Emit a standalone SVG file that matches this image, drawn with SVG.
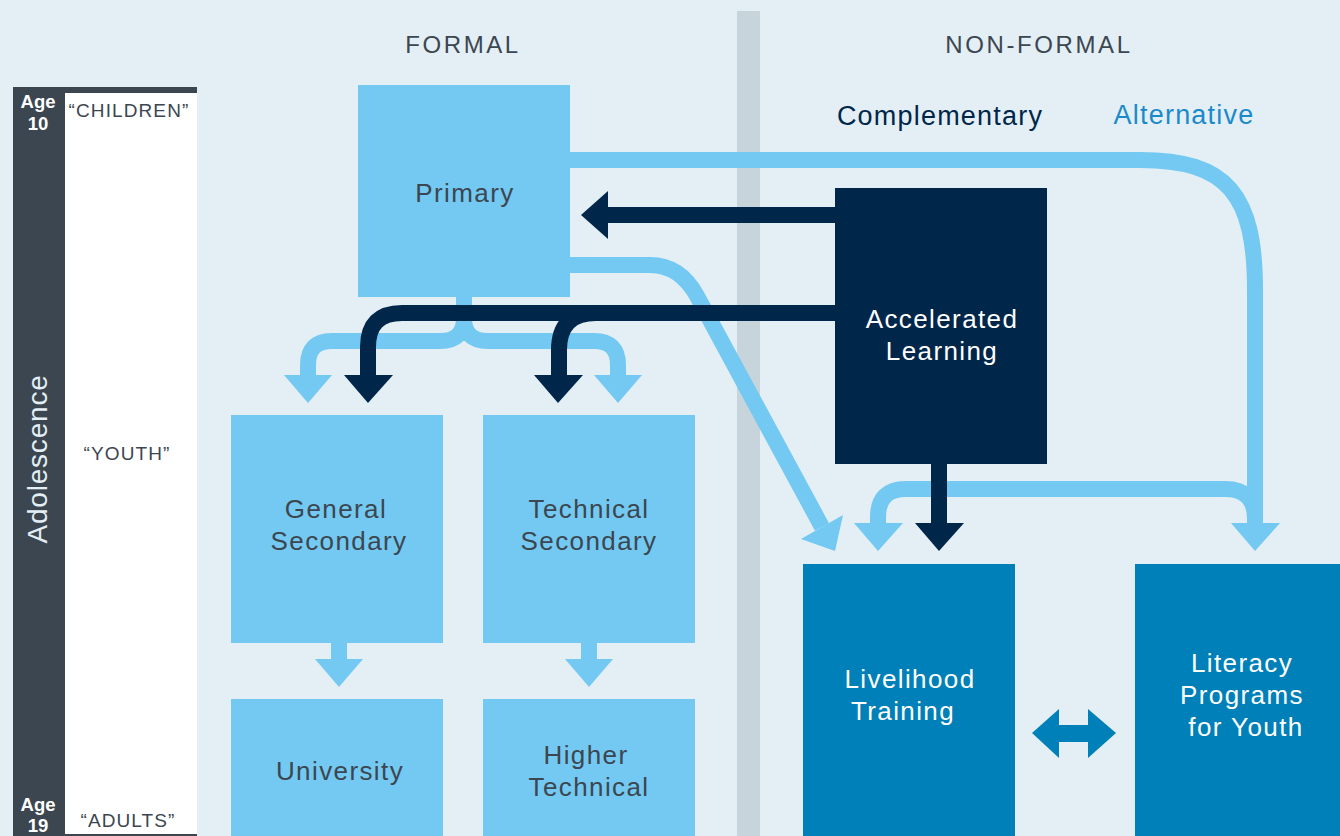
<svg xmlns="http://www.w3.org/2000/svg" width="1340" height="836" viewBox="0 0 1340 836">
<defs>
<style>
.lb{fill:#73C9F1}
.nv{fill:#00264A}
.mb{fill:#0080B8}
.ls{fill:none;stroke:#73C9F1;stroke-width:16}
.ns{fill:none;stroke:#00264A;stroke-width:16}
.t{font-family:"Liberation Sans",Arial,sans-serif;text-anchor:middle}
.bx{font-size:26px;letter-spacing:1.4px;fill:#3C4650}
.bw{font-size:26px;letter-spacing:1.4px;fill:#FFFFFF}
.hd{font-size:24px;letter-spacing:2.6px;fill:#3C4650}
.ag{font-size:18.5px;font-weight:bold;fill:#FFFFFF}
.qt{font-size:19px;letter-spacing:1.1px;fill:#3C4650}
</style>
</defs>
<rect width="1340" height="836" fill="#E3EFF5"/>
<rect x="737" y="11" width="23" height="825" fill="#C8D4DB"/>

<g id="age-scale">
<rect x="13" y="87" width="184" height="749" fill="#3C4650"/>
<rect x="65" y="93" width="132" height="741" fill="#FFFFFF"/>
<text class="t ag" x="38" y="108">Age</text>
<text class="t ag" x="38" y="130">10</text>
<text class="t ag" x="38" y="811">Age</text>
<text class="t ag" x="38" y="832">19</text>
<text class="t" x="47" y="459" transform="rotate(-90 47 459)" style="font-size:28px;letter-spacing:0.8px;fill:#E3EFF5">Adolescence</text>
<text class="t qt" x="129" y="117">“CHILDREN”</text>
<text class="t qt" x="127" y="460">“YOUTH”</text>
<text class="t qt" x="128" y="827">“ADULTS”</text>
</g>

<g id="headers">
<text class="t hd" x="463" y="53">FORMAL</text>
<text class="t hd" x="1039" y="53">NON-FORMAL</text>
<text class="t" x="940" y="125" style="font-size:27px;letter-spacing:1.2px;fill:#00264A">Complementary</text>
<text class="t" x="1184" y="124" style="font-size:27px;letter-spacing:1.2px;fill:#1A8ACB">Alternative</text>
</g>

<g id="connectors">
<!-- light blue -->
<path class="ls" d="M570,160 H1140 C1228,160 1255,195 1255,290 V524"/>
<polygon class="lb" points="1231,523 1280,523 1255,551"/>
<path class="ls" d="M570,265 H650 Q680,265 697,296 L822,527"/>
<polygon class="lb" points="801,539 843,515 835,551"/>
<path class="ls" d="M464,297 V318 Q464,341 440,341 H332 Q308,341 308,365 V377"/>
<path class="ls" d="M464,297 V318 Q464,341 488,341 H594 Q618,341 618,365 V377"/>
<polygon class="lb" points="284,375 332,375 308,403"/>
<polygon class="lb" points="594,375 642,375 618,403"/>
<path class="ls" d="M878,524 V517 Q878,489 906,489 H1225 Q1255,489 1255,519"/>
<polygon class="lb" points="854,523 903,523 878,551"/>
<path class="ls" d="M339,643 V660"/>
<polygon class="lb" points="315,659 363,659 339,687"/>
<path class="ls" d="M589,643 V660"/>
<polygon class="lb" points="565,659 613,659 589,687"/>
<!-- navy -->
<path class="ns" d="M835,215 H606"/>
<polygon class="nv" points="581,215 608,191 608,239"/>
<path class="ns" d="M835,313 H402 Q368,313 368,347 V377"/>
<polygon class="nv" points="344,375 393,375 368,403"/>
<path class="ns" d="M596,313 Q559,313 559,350 V377"/>
<polygon class="nv" points="534,375 583,375 558,403"/>
<path class="ns" d="M939,464 V525"/>
<polygon class="nv" points="915,523 964,523 939,551"/>
<!-- double arrow -->
<rect class="mb" x="1055" y="725" width="38" height="17"/>
<polygon class="mb" points="1032,733 1059,709 1059,758"/>
<polygon class="mb" points="1116,733 1088,709 1088,758"/>
</g>

<g id="primary">
<rect class="lb" x="358" y="85" width="212" height="212"/>
<text class="t bx" x="465" y="202">Primary</text>
</g>
<g id="general-secondary">
<rect class="lb" x="231" y="415" width="212" height="228"/>
<text class="t bx" x="336" y="518">General</text>
<text class="t bx" x="339" y="550">Secondary</text>
</g>
<g id="technical-secondary">
<rect class="lb" x="483" y="415" width="212" height="228"/>
<text class="t bx" x="589" y="518">Technical</text>
<text class="t bx" x="589" y="550">Secondary</text>
</g>
<g id="university">
<rect class="lb" x="231" y="699" width="212" height="137"/>
<text class="t bx" x="340" y="780">University</text>
</g>
<g id="higher-technical">
<rect class="lb" x="483" y="699" width="212" height="137"/>
<text class="t bx" x="586" y="764">Higher</text>
<text class="t bx" x="589" y="796">Technical</text>
</g>
<g id="accelerated-learning">
<rect class="nv" x="835" y="188" width="212" height="276"/>
<text class="t bw" x="942" y="328">Accelerated</text>
<text class="t bw" x="942" y="360">Learning</text>
</g>
<g id="livelihood-training">
<rect class="mb" x="803" y="564" width="212" height="272"/>
<text class="t bw" x="910" y="688">Livelihood</text>
<text class="t bw" x="903" y="720">Training</text>
</g>
<g id="literacy-programs">
<rect class="mb" x="1135" y="564" width="205" height="272"/>
<text class="t bw" x="1242" y="672">Literacy</text>
<text class="t bw" x="1242" y="704">Programs</text>
<text class="t bw" x="1246" y="736">for Youth</text>
</g>
</svg>
